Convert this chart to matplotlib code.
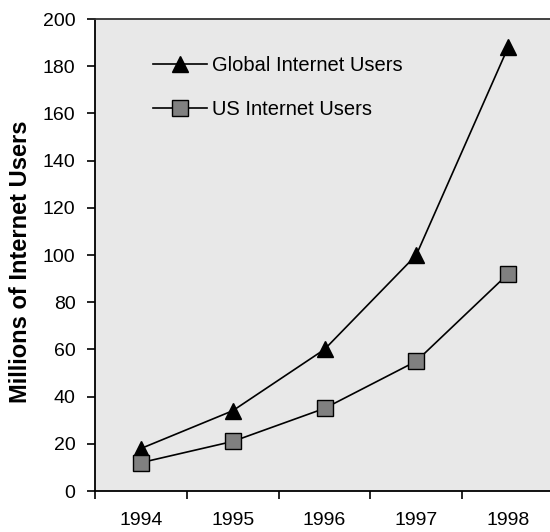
import matplotlib
matplotlib.use("Agg")
import matplotlib.pyplot as plt
from matplotlib.ticker import FixedLocator, NullFormatter, FixedFormatter

plt.rcParams['font.family'] = ['Liberation Sans', 'DejaVu Sans']

years = ["1994", "1995", "1996", "1997", "1998"]
global_users = [18, 34, 60, 100, 188]
us_users = [12, 21, 35, 55, 92]
y_ticks = [0, 20, 40, 60, 80, 100, 120, 140, 160, 180, 200]

fig = plt.figure(figsize=(5.5, 5.32), dpi=100)
ax = fig.add_axes([95 / 550, 1 - 491 / 532, 459 / 550, 472 / 532])
ax.set_facecolor("#e8e8e8")

x = list(range(len(years)))
ax.plot(x, global_users, color="black", lw=1.2, marker="^", ms=12,
        mfc="black", mec="black", label="Global Internet Users")
ax.plot(x, us_users, color="black", lw=1.2, marker="s", ms=11.5,
        mfc="#808080", mec="black", mew=1.0, label="US Internet Users")

ax.set_xlim(-0.5, len(years) - 0.5)
ax.set_ylim(0, 200)

# category boundaries carry tick marks, labels sit at category centres
ax.xaxis.set_major_locator(FixedLocator([i - 0.5 for i in range(len(years) + 1)]))
ax.xaxis.set_major_formatter(NullFormatter())
ax.xaxis.set_minor_locator(FixedLocator(x))
ax.xaxis.set_minor_formatter(FixedFormatter(years))
ax.tick_params(axis="x", which="major", direction="out", length=6, width=1.2)
ax.tick_params(axis="x", which="minor", length=0, pad=15, labelsize=14)

ax.set_yticks(y_ticks)
ax.tick_params(axis="y", direction="out", length=6, width=1.2, labelsize=14, pad=8)

for side in ["left", "bottom", "top"]:
    ax.spines[side].set_linewidth(1.3)
    ax.spines[side].set_color("black")
ax.spines["top"].set_color("#333333")
ax.spines["right"].set_visible(False)

ax.set_ylabel("Millions of Internet Users", fontsize=17, fontweight="bold")
ax.yaxis.set_label_coords(-0.137, 0.485)

ax.legend(loc="upper left", bbox_to_anchor=(0.087, 0.96), frameon=False,
          fontsize=14.5, handlelength=2.7, handletextpad=0.25, labelspacing=1.25)

fig.savefig("out.png", dpi=100)
